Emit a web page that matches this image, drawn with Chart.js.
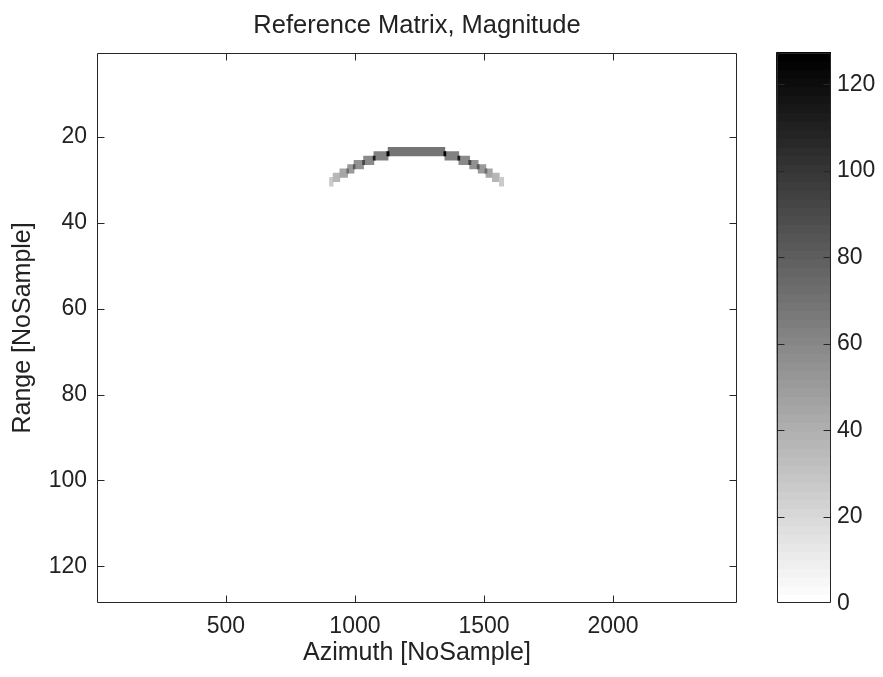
<!DOCTYPE html>
<html><head><meta charset="utf-8">
<script src="https://cdn.jsdelivr.net/npm/chart.js@4/dist/chart.umd.min.js"></script>
<style>
html,body{margin:0;padding:0;background:#fff;}
#wrap{position:relative;width:883px;height:677px;overflow:hidden;background:#fff;}
#main{position:absolute;left:0;top:0;}
#cbar{position:absolute;left:743px;top:0;}
</style></head><body>
<div id="wrap"><canvas id="main" width="883" height="677"></canvas><canvas id="cbar" width="140" height="677"></canvas></div>
<script>
// ---- data ----
const titleText = 'Reference Matrix, Magnitude';
const xLabel = 'Azimuth [NoSample]';
const yLabel = 'Range [NoSample]';
const nAzimuth = 2480;
const nRange = 128;
const xTicks = [500, 1000, 1500, 2000];
const yTicks = [20, 40, 60, 80, 100, 120];
const cbTicks = [0, 20, 40, 60, 80, 100, 120];
const cMax = 127.4;
const nLevels = 64;

// arc steps: each step covers two range rows starting at stepRow, azimuth samples stepFrom..stepTo
const stepRow  = [30, 29, 28, 27, 26, 25, 24, 23, 24, 25, 26, 27, 28, 29, 30];
const stepFrom = [902, 916, 942, 972, 997, 1034, 1074, 1129, 1349, 1403, 1445, 1478, 1508, 1533, 1560];
const stepTo   = [915, 941, 971, 996, 1033, 1073, 1128, 1348, 1402, 1444, 1477, 1507, 1532, 1559, 1576];
const stepMag  = [27, 36, 44, 50, 54, 58, 63, 68, 63, 58, 54, 50, 44, 36, 27];

// strong peaks at the joints between steps (one row each)
const peakRow  = [28, 27, 26, 25, 24, 24, 25, 26, 27, 28];
const peakFrom = [969, 994, 1030, 1071, 1124, 1345, 1399, 1441, 1474, 1504];
const peakTo   = [975, 1000, 1037, 1078, 1132, 1352, 1406, 1449, 1481, 1511];
const peakMag  = [72, 82, 92, 112, 124, 124, 112, 92, 82, 72];

// ---- styling ----
const FONT = "'Liberation Sans', Arial, Helvetica, sans-serif";
const INK = '#222222';
Chart.defaults.font.family = FONT;
Chart.defaults.color = INK;

function levelColor(i) {
  const g = Math.round(255 * (1 - i / (nLevels - 1)));
  return 'rgb(' + g + ',' + g + ',' + g + ')';
}
function magColor(v) {
  const i = Math.max(0, Math.min(nLevels - 1, Math.floor(v / cMax * nLevels)));
  return levelColor(i);
}

const axesBox = {
  id: 'axesBox',
  afterDatasetsDraw(chart, args, o) {
    const ctx = chart.ctx, a = chart.chartArea;
    const L = Math.round(a.left) + 0.5, R = Math.round(a.right) - 0.5;
    const T = Math.round(a.top) + 0.5, B = Math.round(a.bottom) - 0.5;
    ctx.save();
    ctx.strokeStyle = o.color;
    ctx.lineWidth = 1;
    ctx.beginPath();
    (o.hAxes || []).forEach(id => {
      const s = chart.scales[id];
      s.ticks.forEach(t => {
        const p = Math.round(s.getPixelForValue(t.value)) + 0.5;
        if (Math.abs(p - L) < 2 || Math.abs(p - R) < 2) return;
        ctx.moveTo(p, B); ctx.lineTo(p, B - o.len);
        ctx.moveTo(p, T); ctx.lineTo(p, T + o.len);
      });
    });
    (o.vAxes || []).forEach(id => {
      const s = chart.scales[id];
      s.ticks.forEach(t => {
        const p = Math.round(s.getPixelForValue(t.value)) + 0.5;
        if (Math.abs(p - T) < 2 || Math.abs(p - B) < 2) return;
        ctx.moveTo(L, p); ctx.lineTo(L + o.len, p);
        ctx.moveTo(R, p); ctx.lineTo(R - o.len, p);
      });
    });
    ctx.rect(L, T, R - L, B - T);
    ctx.stroke();
    ctx.restore();
  }
};

// build bar data from arrays
const stepBars = [];
stepRow.forEach((r, k) => {
  [r, r + 1].forEach(rr => stepBars.push({ x: [stepFrom[k] - 0.5, stepTo[k] + 0.5], y: rr, m: stepMag[k] }));
});
const peakBars = peakRow.map((r, k) => ({ x: [peakFrom[k] - 0.5, peakTo[k] + 0.5], y: r, m: peakMag[k] }));

const noGrid = { display: false, drawTicks: false, tickLength: 0 };

new Chart(document.getElementById('main'), {
  type: 'bar',
  data: {
    datasets: [
      { label: 'peaks', data: peakBars, backgroundColor: c => magColor(c.raw.m) },
      { label: 'arc', data: stepBars, backgroundColor: c => magColor(c.raw.m) }
    ]
  },
  options: {
    responsive: false, animation: false, devicePixelRatio: 1,
    indexAxis: 'y',
    layout: { padding: { left: 0, right: 146, top: 0, bottom: 0 } },
    datasets: { bar: { grouped: false, barPercentage: 1, categoryPercentage: 1, borderWidth: 0 } },
    plugins: {
      legend: { display: false },
      tooltip: { enabled: false },
      title: { display: true, text: titleText, fullSize: false, color: INK,
               font: { size: 25.5, weight: 'normal' }, padding: { top: 10.5, bottom: 11.7 } },
      axesBox: { color: '#262626', len: 7, hAxes: ['x'], vAxes: ['y'] }
    },
    scales: {
      x: {
        type: 'linear', position: 'bottom', min: 0.5, max: nAzimuth + 0.5, offset: false,
        grid: noGrid, border: { display: false },
        afterBuildTicks: s => { s.ticks = xTicks.map(v => ({ value: v })); },
        afterFit: s => { s.height = 74; },
        ticks: { font: { size: 23 }, color: INK, padding: 10, maxRotation: 0, autoSkip: false, callback: v => String(v) },
        title: { display: true, text: xLabel, font: { size: 25 }, color: INK, padding: { top: 0, bottom: 9 } }
      },
      y: {
        type: 'linear', position: 'left', reverse: true, min: 0.5, max: nRange + 0.5, offset: false,
        grid: noGrid, border: { display: false },
        afterBuildTicks: s => { s.ticks = yTicks.map(v => ({ value: v })); },
        afterFit: s => { s.width = 97; },
        ticks: { font: { size: 23 }, color: INK, padding: 10, autoSkip: false, callback: v => String(v) },
        title: { display: true, text: yLabel, font: { size: 25 }, color: INK, padding: { top: 8, bottom: 0 } }
      }
    }
  },
  plugins: [axesBox]
});

// colorbar: flipped gray colormap bands
const cbSets = [];
for (let i = nLevels - 1; i >= 0; i--) {
  cbSets.push({ data: [[i * cMax / nLevels, cMax]], backgroundColor: levelColor(i) });
}
new Chart(document.getElementById('cbar'), {
  type: 'bar',
  data: { labels: [''], datasets: cbSets },
  options: {
    responsive: false, animation: false, devicePixelRatio: 1,
    layout: { padding: { left: 33.7, right: 0, top: 52.5, bottom: 73.7 } },
    datasets: { bar: { grouped: false, barPercentage: 1, categoryPercentage: 1, borderWidth: 0 } },
    plugins: {
      legend: { display: false },
      tooltip: { enabled: false },
      axesBox: { color: '#262626', len: 7, hAxes: [], vAxes: ['y'] }
    },
    scales: {
      x: { display: false },
      y: {
        position: 'right', min: 0, max: cMax,
        grid: noGrid, border: { display: false },
        afterBuildTicks: s => { s.ticks = cbTicks.map(v => ({ value: v })); },
        afterFit: s => { s.width = 52.3; },
        ticks: { font: { size: 23 }, color: INK, padding: 6.3, autoSkip: false, callback: v => String(v) }
      }
    }
  },
  plugins: [axesBox]
});
</script>
</body></html>
